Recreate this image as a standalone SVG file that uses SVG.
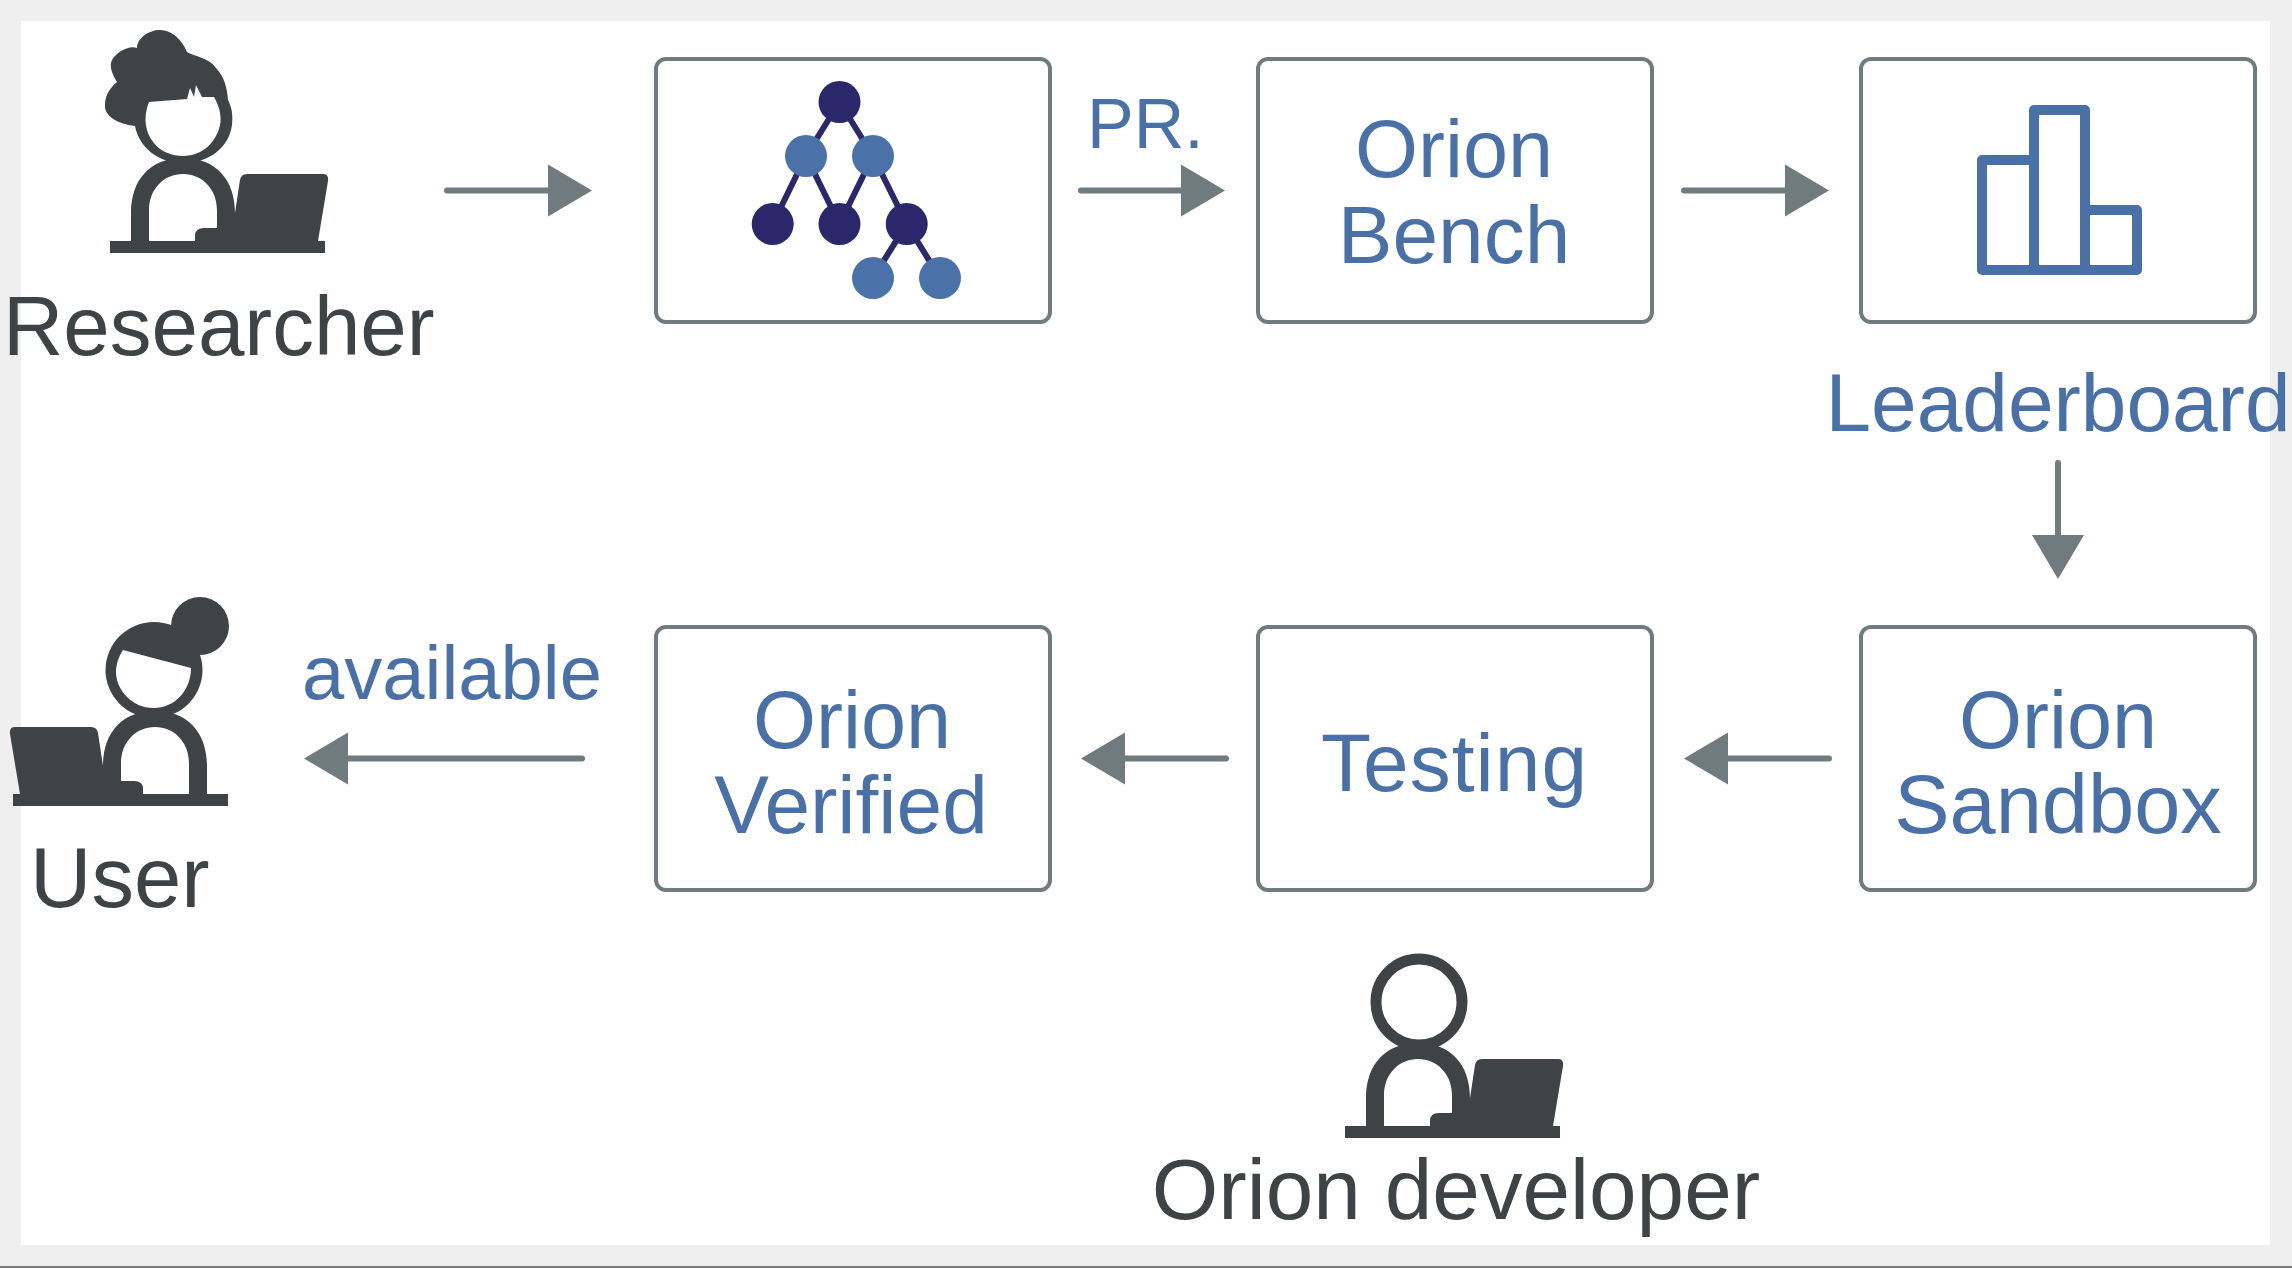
<svg xmlns="http://www.w3.org/2000/svg" width="2292" height="1268" viewBox="0 0 2292 1268">
<style>
.box{fill:#fff;stroke:#6f7b7f;stroke-width:4}
.t{font-family:"Liberation Sans",Arial,sans-serif}
.blue{fill:#4a70a8}
.dark{fill:#3e4346}
.conn{stroke:#6f7b7f;stroke-width:6;stroke-linecap:round;fill:none}
.head{fill:#6f7b7f}
.edge{stroke:#2a276b;stroke-width:6}
.nv{fill:#2a276b}
.lb{fill:#4a72a8}
.fg{fill:#3e4346}
.bar{fill:none;stroke:#4a70a8;stroke-width:10;stroke-linejoin:round}
</style>
<defs>
<g id="desk">
<path class="fg" d="M131,241V213C131,180 150,158 183,158C216,158 235,180 235,213L240,180Q241,174 247,174H323Q329,174 328,181L318,241H325V253H110V241Z"/>
<path fill="#fff" d="M149,241V210C149,189 164,174 183,174C202,174 217,189 217,210V228H204Q195,228 195,236V241Z"/>
</g>
</defs>
<rect width="2292" height="1268" fill="#efefef"/>
<rect x="21" y="21" width="2249" height="1224" fill="#fff"/>
<rect x="0" y="1266" width="2292" height="2" fill="#7a7a7a"/>

<g id="connectors">
<path class="conn" d="M447,190.500H550"/><path class="head" d="M548,164.500L592,190.500L548,216.500Z"/>
<path class="conn" d="M1081,190.500H1183"/><path class="head" d="M1181,164.500L1225,190.500L1181,216.500Z"/>
<path class="conn" d="M1684,190.500H1787"/><path class="head" d="M1785,164.500L1829,190.500L1785,216.500Z"/>
<path class="conn" d="M2058,463V537"/><path class="head" d="M2032,535H2084L2058,579Z"/>
<path class="conn" d="M1829,758.500H1726"/><path class="head" d="M1728,732.500L1684,758.500L1728,784.500Z"/>
<path class="conn" d="M1226,758.500H1123"/><path class="head" d="M1125,732.500L1081,758.500L1125,784.500Z"/>
<path class="conn" d="M582,758.500H346"/><path class="head" d="M348,732.500L304,758.500L348,784.500Z"/>
</g>

<g id="researcher">
<use href="#desk"/>
<path class="fg" d="M135,126C118,124 104,116 105,105C105,95 110,88 117,82C112,74 109,66 112,60C116,53 128,45 137,48C137,38 149,30 160,30C172,30 182,40 187,52C195,57 208,57 216,68C225,78 227,88 228,100C232,108 233,115 232,125C229,147 210,163 183,163C158,163 139,147 135,126Z"/>
<path fill="#fff" d="M149,102L187,99L190,88L194,97L196,85L202,97L214,97C219,106 221,113 220.500,122C218,141 203,156 183,156C162,156 146,141 145.500,120C145.500,113 147,107 149,102Z"/>
<text class="t dark" x="3" y="355" font-size="83.500">Researcher</text>
</g>

<g id="decision-tree">
<rect class="box" x="656" y="59" width="394" height="263" rx="10"/>
<path class="edge" d="M839.500,102L806,156L772.700,224M806,156L839.500,224L873,156L906.700,224L873,278M839.500,102L873,156M906.700,224L940,278" fill="none"/>
<circle class="nv" cx="839.500" cy="102" r="21"/>
<circle class="lb" cx="806" cy="156" r="21"/>
<circle class="lb" cx="873" cy="156" r="21"/>
<circle class="nv" cx="772.700" cy="224" r="21"/>
<circle class="nv" cx="839.500" cy="224" r="21"/>
<circle class="nv" cx="906.700" cy="224" r="21"/>
<circle class="lb" cx="873" cy="278" r="21"/>
<circle class="lb" cx="940" cy="278" r="21"/>
</g>

<g id="pr-label"><text class="t blue" x="1087" y="148" font-size="70">PR.</text></g>

<g id="orion-bench">
<rect class="box" x="1258" y="59" width="394" height="263" rx="10"/>
<text class="t blue" x="1454" y="177" font-size="81" text-anchor="middle">Orion</text>
<text class="t blue" x="1454" y="263" font-size="82" text-anchor="middle">Bench</text>
</g>

<g id="leaderboard">
<rect class="box" x="1861" y="59" width="394" height="263" rx="10"/>
<g class="bar"><rect x="1982" y="160" width="52" height="110"/><rect x="2034" y="110" width="51" height="160"/><rect x="2085" y="210" width="52" height="60"/></g>
<text class="t blue" x="2058" y="431" font-size="82" text-anchor="middle">Leaderboard</text>
</g>

<g id="orion-sandbox">
<rect class="box" x="1861" y="627" width="394" height="263" rx="10"/>
<text class="t blue" x="2058" y="748" font-size="81" text-anchor="middle">Orion</text>
<text class="t blue" x="2058" y="833" font-size="83" text-anchor="middle">Sandbox</text>
</g>

<g id="testing">
<rect class="box" x="1258" y="627" width="394" height="263" rx="10"/>
<text class="t blue" x="1454" y="791" font-size="82" text-anchor="middle" textLength="266">Testing</text>
</g>

<g id="orion-verified">
<rect class="box" x="656" y="627" width="394" height="263" rx="10"/>
<text class="t blue" x="852" y="748" font-size="81" text-anchor="middle">Orion</text>
<text class="t blue" x="851" y="833" font-size="82" text-anchor="middle">Verified</text>
</g>

<g id="available-label"><text class="t blue" x="302" y="699" font-size="76">available</text></g>

<g id="user">
<use href="#desk" transform="translate(338,553) scale(-1,1)"/>
<circle class="fg" cx="200" cy="626" r="29"/>
<ellipse class="fg" cx="154" cy="670" rx="48.500" ry="48"/>
<path fill="#fff" d="M123,650L191,668C191,690 175,708 153.500,708C132,708 116,690 116,672C116,664 119,656 123,650Z"/>
<text class="t dark" x="30" y="907" font-size="85">User</text>
</g>

<g id="orion-developer">
<use href="#desk" transform="translate(1235,885)"/>
<ellipse cx="1419" cy="1002" rx="43" ry="43" fill="#fff" stroke="#3e4346" stroke-width="11"/>
<text class="t dark" x="1456" y="1219" font-size="85.500" text-anchor="middle">Orion developer</text>
</g>
</svg>
